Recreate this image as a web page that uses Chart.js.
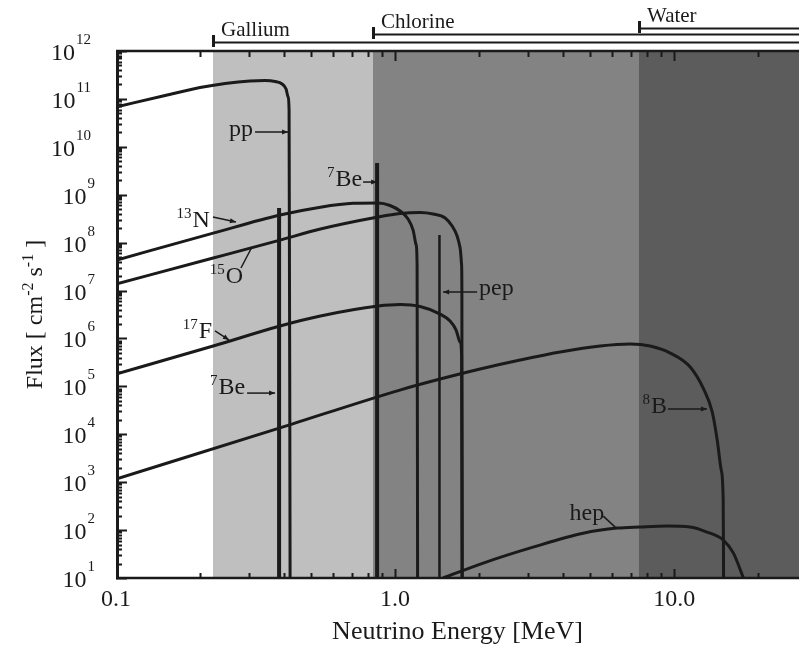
<!DOCTYPE html>
<html>
<head>
<meta charset="utf-8">
<script src="https://cdn.jsdelivr.net/npm/chart.js@4.4.0/dist/chart.umd.min.js"></script>
<style>
    html, body { margin: 0; padding: 0; background: #fff; }
    #wrap { width: 799px; height: 648px; position: relative; }
</style>
</head>
<body>
<div id="wrap"><canvas id="fluxChart"></canvas></div>
<script>
// --- data (energy in MeV, flux in cm^-2 s^-1) ---
const ppEnergy = [0.1, 0.15, 0.2, 0.246, 0.302, 0.342, 0.3715, 0.3936, 0.4068, 0.4135, 0.417, 0.4205];
const ppFlux = [6.8e10, 1.18e11, 1.73e11, 2.1e11, 2.37e11, 2.42e11, 2.31e11, 2.05e11, 1.61e11, 1.1e11, 5.86e10, 10];

const n13Energy = [0.1, 0.223, 0.387, 0.54, 0.707, 0.869, 0.959, 1.042, 1.113, 1.16, 1.19, 1.199, 1.204];
const n13Flux = [4.3e7, 1.58e8, 3.77e8, 5.5e8, 6.6e8, 6.7e8, 5.96e8, 4.57e8, 3.11e8, 1.83e8, 8.9e7, 3.4e7, 10];

const o15Energy = [0.1, 0.223, 0.387, 0.54, 0.869, 1.042, 1.229, 1.369, 1.511, 1.601, 1.668, 1.71, 1.731, 1.735, 1.738];
const o15Flux = [1.37e7, 4.77e7, 1.13e8, 1.92e8, 3.42e8, 4.05e8, 4.25e8, 3.95e8, 3.27e8, 2.22e8, 1.37e8, 7.7e7, 3.4e7, 1.02e7, 10];

const f17Energy = [0.1, 0.223, 0.387, 0.54, 0.869, 1.042, 1.229, 1.45, 1.574, 1.654, 1.71, 1.731, 1.74];
const f17Flux = [1.81e5, 6.94e5, 1.82e6, 2.94e6, 4.74e6, 5.1e6, 4.63e6, 3.23e6, 2.31e6, 1.5e6, 8.4e5, 4.5e5, 10];

const b8Energy = [0.1, 0.387, 1.04, 1.45, 2.017, 2.805, 3.903, 5.43, 6.955, 8.2, 9.68, 11.41, 12.7, 13.69, 14.26, 14.74, 14.98, 15.03];
const b8Flux = [1.16e3, 1.36e4, 8.37e4, 1.42e5, 2.3e5, 3.54e5, 5.2e5, 6.94e5, 7.64e5, 6.94e5, 4.95e5, 2.53e5, 9.2e4, 2.9e4, 7.57e3, 1.79e3, 4.23e2, 10];

const hepEnergy = [1.486, 2.07, 3.12, 4.72, 6.25, 7.55, 9.44, 11.4, 13.1, 15.0, 16.3, 17.7];
const hepFlux = [10, 20.5, 44, 86, 110, 116, 121, 116, 91, 62, 33, 10];

// line sources
const be7LineEnergy = [0.384, 0.862];
const be7LineFlux = [5.3e8, 4.6e9];
const pepLineEnergy = [1.442];
const pepLineFlux = [1.44e8];

// detector thresholds as drawn
const detectorNames = ['Gallium', 'Chlorine', 'Water'];
const detectorThresholds = [0.223, 0.83, 7.5];

// axes
const energyMin = 0.1;
const energyMax = 28;
const fluxMin = 10;
const fluxMax = 1e12;
const fluxExponents = [1, 2, 3, 4, 5, 6, 7, 8, 9, 10, 11, 12];
const energyTickValues = [0.1, 1, 10];
const energyTickLabels = ['0.1', '1.0', '10.0'];
const energyMinorTicks = [0.2, 0.3, 0.4, 0.5, 0.6, 0.7, 0.8, 0.9, 2, 3, 4, 5, 6, 7, 8, 9, 20];

// --- styles ---
const serif = '"Liberation Serif", "DejaVu Serif", serif';
const ink = '#1a1a1a';
const bandColors = ['#bfbfbf', '#838383', '#5c5c5c'];
const bandLineY = [42, 34, 28];

function toPoints(energies, fluxes) {
    return energies.map((e, i) => ({ x: e, y: fluxes[i] }));
}

function curve(label, energies, fluxes, width) {
    return {
        label,
        data: toPoints(energies, fluxes),
        borderColor: ink,
        borderWidth: width,
        pointRadius: 0,
        fill: false,
        cubicInterpolationMode: 'monotone',
    };
}

function spike(label, energy, flux, width) {
    return {
        label,
        data: [{ x: energy, y: fluxMin }, { x: energy, y: flux }],
        borderColor: ink,
        borderWidth: width,
        pointRadius: 0,
        fill: false,
        tension: 0,
        borderCapStyle: 'butt',
    };
}

const datasets = [
    curve('pp', ppEnergy, ppFlux, 3),
    curve('13N', n13Energy, n13Flux, 3),
    curve('15O', o15Energy, o15Flux, 3),
    curve('17F', f17Energy, f17Flux, 3),
    curve('8B', b8Energy, b8Flux, 3),
    curve('hep', hepEnergy, hepFlux, 3),
    ...be7LineEnergy.map((e, i) => spike('7Be', e, be7LineFlux[i], 4)),
    ...pepLineEnergy.map((e, i) => spike('pep', e, pepLineFlux[i], 2.5)),
];

// labels with arrows: tip sits on the curve (data units), other offsets in px from the tip
const annotations = [
    { text: 'pp', sup: '', tip: [0.4135, 2.04e10], tail: [-33, 0], at: [-35, 4], align: 'right', head: true },
    { text: 'Be', sup: '7', tip: [0.862, 1.84e9], tail: [-14, 0], at: [-15, 4], align: 'right', head: true },
    { text: 'N', sup: '13', tip: [0.269, 2.69e8], tail: [-23, -5], at: [-26, 5], align: 'right', head: true },
    { text: 'O', sup: '15', tip: [0.307, 8.1e7], tail: [-11, 21], at: [-9, 36], align: 'right', head: false },
    { text: 'F', sup: '17', tip: [0.254, 9.3e5], tail: [-14, -9], at: [-17, -2], align: 'right', head: true },
    { text: 'Be', sup: '7', tip: [0.3715, 7.24e4], tail: [-28, 0], at: [-30, 1], align: 'right', head: true },
    { text: 'pep', sup: '', tip: [1.486, 9.3e6], tail: [34, 0], at: [36, 3], align: 'left', head: true },
    { text: 'B', sup: '8', tip: [13.1, 3.36e4], tail: [-39, 0], at: [-40, 4], align: 'right', head: true },
    { text: 'hep', sup: '', tip: [6.2, 110], tail: [-13, -12], at: [-12, -8], align: 'right', head: false },
];

// shaded detector ranges behind the curves
const bandsPlugin = {
    id: 'bands',
    beforeDatasetsDraw(chart) {
        const { ctx, chartArea: { top, bottom, right }, scales: { x } } = chart;
        ctx.save();
        detectorThresholds.forEach((e, i) => {
            const x0 = Math.round(x.getPixelForValue(e));
            ctx.fillStyle = bandColors[i];
            ctx.fillRect(x0, top, right - x0, bottom - top);
        });
        ctx.restore();
    },
};

// text run with raised parts, e.g. [['Flux [ cm', false], ['-2', true], ...]
function drawRun(ctx, parts, x0, y0, size, supSize) {
    let cx = x0;
    parts.forEach(([t, sup]) => {
        ctx.font = (sup ? supSize : size) + 'px ' + serif;
        ctx.fillText(t, cx, sup ? y0 - 9 : y0);
        cx += ctx.measureText(t).width;
    });
    return cx - x0;
}

// frame, inward ticks, tick labels, axis title, detector brackets, curve labels
const decorPlugin = {
    id: 'decor',
    afterDatasetsDraw(chart) {
        const { ctx, chartArea: { left, right, top, bottom }, scales: { x, y } } = chart;
        ctx.save();
        ctx.strokeStyle = ink;
        ctx.fillStyle = ink;

        // frame
        ctx.lineWidth = 3;
        ctx.beginPath();
        ctx.moveTo(left + 1.5, top);
        ctx.lineTo(left + 1.5, bottom);
        ctx.stroke();
        ctx.lineWidth = 2.5;
        ctx.beginPath();
        ctx.moveTo(left, bottom);
        ctx.lineTo(right, bottom);
        ctx.moveTo(left, top);
        ctx.lineTo(right, top);
        ctx.stroke();

        // y ticks
        ctx.lineWidth = 2;
        ctx.beginPath();
        fluxExponents.forEach((p) => {
            const py = Math.round(y.getPixelForValue(Math.pow(10, p))) + 0.5;
            ctx.moveTo(left, py);
            ctx.lineTo(left + 11, py);
            if (p < fluxExponents[fluxExponents.length - 1]) {
                for (let m = 2; m <= 9; m++) {
                    const my = Math.round(y.getPixelForValue(m * Math.pow(10, p))) + 0.5;
                    ctx.moveTo(left, my);
                    ctx.lineTo(left + 6, my);
                }
            }
        });
        ctx.stroke();

        // x ticks, bottom and top
        ctx.beginPath();
        energyMinorTicks.forEach((e) => {
            const px = Math.round(x.getPixelForValue(e)) + 0.5;
            ctx.moveTo(px, bottom);
            ctx.lineTo(px, bottom - 5);
            ctx.moveTo(px, top);
            ctx.lineTo(px, top + 6);
        });
        energyTickValues.slice(1).forEach((e) => {
            const px = Math.round(x.getPixelForValue(e)) + 0.5;
            ctx.moveTo(px, bottom);
            ctx.lineTo(px, bottom - 9);
            ctx.moveTo(px, top);
            ctx.lineTo(px, top + 10);
        });
        ctx.stroke();

        // y tick labels 10^n
        ctx.textBaseline = 'alphabetic';
        ctx.textAlign = 'right';
        fluxExponents.forEach((p) => {
            const py = y.getPixelForValue(Math.pow(10, p));
            const rightEdge = p < 10 ? 95 : 91;
            ctx.font = '15px ' + serif;
            const ew = ctx.measureText(String(p)).width;
            ctx.fillText(String(p), rightEdge, py - 7);
            ctx.font = '24px ' + serif;
            ctx.fillText('10', rightEdge - ew - 1, py + 9);
        });

        // x tick labels
        ctx.font = '24px ' + serif;
        ctx.textAlign = 'center';
        energyTickValues.forEach((e, i) => {
            ctx.fillText(energyTickLabels[i], x.getPixelForValue(e), 606);
        });

        // y axis title with superscripts
        const titleParts = [['Flux [ cm', false], ['-2', true], [' s', false], ['-1', true], [' ]', false]];
        ctx.save();
        ctx.translate(42, (top + bottom) / 2);
        ctx.rotate(-Math.PI / 2);
        ctx.textAlign = 'left';
        ctx.globalAlpha = 0;
        const tw = drawRun(ctx, titleParts, 0, 0, 24, 16);
        ctx.globalAlpha = 1;
        drawRun(ctx, titleParts, -tw / 2, 0, 24, 16);
        ctx.restore();

        // detector brackets above the frame
        ctx.textAlign = 'left';
        ctx.font = '21px ' + serif;
        detectorThresholds.forEach((e, i) => {
            const x0 = Math.round(x.getPixelForValue(e));
            const ly = bandLineY[i];
            ctx.lineWidth = 2;
            ctx.beginPath();
            ctx.moveTo(x0, ly + 0.5);
            ctx.lineTo(chart.width, ly + 0.5);
            ctx.stroke();
            ctx.lineWidth = 3;
            ctx.beginPath();
            ctx.moveTo(x0 + 0.5, ly - 7);
            ctx.lineTo(x0 + 0.5, ly + 5);
            ctx.stroke();
            ctx.fillText(detectorNames[i], x0 + 8, ly - 6);
        });

        // curve labels with arrows
        annotations.forEach((a) => {
            const tx = x.getPixelForValue(a.tip[0]);
            const ty = y.getPixelForValue(a.tip[1]);
            const sx = tx + a.tail[0];
            const sy = ty + a.tail[1];
            ctx.lineWidth = 1.5;
            ctx.beginPath();
            ctx.moveTo(sx, sy);
            ctx.lineTo(tx, ty);
            ctx.stroke();
            if (a.head) {
                const ang = Math.atan2(ty - sy, tx - sx);
                ctx.beginPath();
                ctx.moveTo(tx, ty);
                ctx.lineTo(tx - 6 * Math.cos(ang) + 2.5 * Math.sin(ang), ty - 6 * Math.sin(ang) - 2.5 * Math.cos(ang));
                ctx.lineTo(tx - 6 * Math.cos(ang) - 2.5 * Math.sin(ang), ty - 6 * Math.sin(ang) + 2.5 * Math.cos(ang));
                ctx.closePath();
                ctx.fill();
            }
            const px = tx + a.at[0];
            const py = ty + a.at[1];
            ctx.font = '24px ' + serif;
            const w = ctx.measureText(a.text).width;
            ctx.textAlign = 'left';
            if (a.align === 'right') {
                ctx.fillText(a.text, px - w, py);
                if (a.sup) {
                    ctx.font = '15px ' + serif;
                    ctx.textAlign = 'right';
                    ctx.fillText(a.sup, px - w - 1, py - 9);
                }
            } else {
                ctx.fillText(a.text, px, py);
            }
        });

        ctx.restore();
    },
};

new Chart(document.getElementById('fluxChart'), {
    type: 'line',
    data: { datasets },
    options: {
        responsive: true,
        maintainAspectRatio: false,
        animation: false,
        devicePixelRatio: 1,
        layout: { padding: { top: 51, right: 0, left: 0, bottom: 0 } },
        plugins: {
            legend: { display: false },
            tooltip: { enabled: false },
        },
        scales: {
            x: {
                type: 'logarithmic',
                min: energyMin,
                max: energyMax,
                grid: { display: false },
                border: { display: false },
                ticks: { display: false },
                title: {
                    display: true,
                    text: 'Neutrino Energy [MeV]',
                    color: ink,
                    font: { family: serif, size: 26 },
                    padding: { top: 0, bottom: 0 },
                },
                afterFit: (scale) => { scale.height = 70; },
            },
            y: {
                type: 'logarithmic',
                min: fluxMin,
                max: fluxMax,
                grid: { display: false },
                border: { display: false },
                ticks: { display: false },
                title: { display: false },
                afterFit: (scale) => { scale.width = 116; },
            },
        },
    },
    plugins: [bandsPlugin, decorPlugin],
});
</script>
</body>
</html>
